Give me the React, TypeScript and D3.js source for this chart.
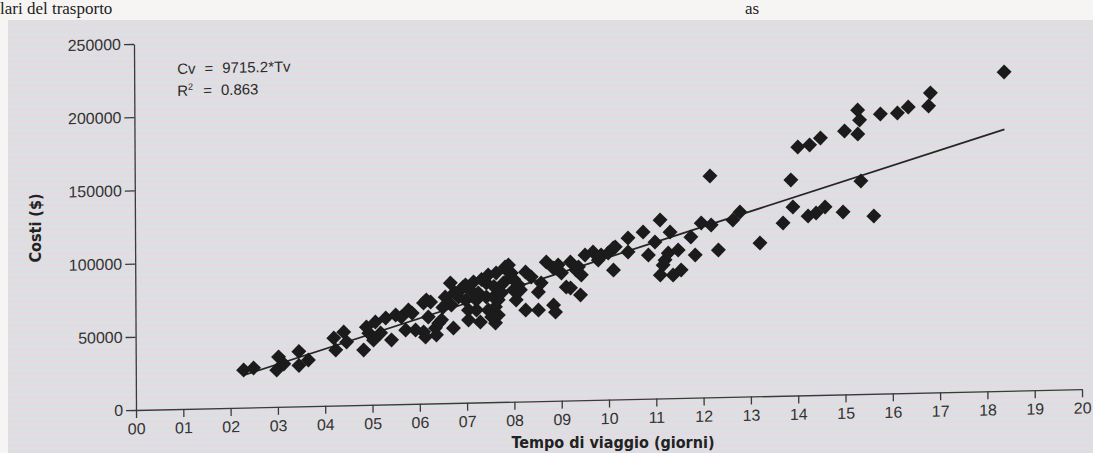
import React, { useEffect, useRef } from 'react';
import * as d3 from 'd3';

// Tempo di viaggio (giorni) per ogni spedizione
const tempoViaggio = [
  2.28, 2.49, 2.98, 3.02, 3.13, 3.45, 3.45, 3.65, 4.19, 4.23, 4.40, 4.46, 4.82, 4.88, 4.93,
  5.03, 5.07, 5.18, 5.29, 5.41, 5.50, 5.62, 5.71, 5.77, 5.92, 6.09, 6.09, 6.13, 6.15, 6.19,
  6.24, 6.34, 6.36, 6.41, 6.47, 6.55, 6.66, 6.68, 6.72, 6.83, 6.87, 6.93, 6.98, 6.98, 7.04,
  7.04, 7.15, 7.21, 7.21, 7.25, 7.29, 7.42, 7.42, 7.46, 7.46, 7.53, 7.57, 7.61, 7.61, 7.63,
  7.67, 7.67, 7.74, 7.78, 7.82, 7.89, 7.93, 7.95, 7.99, 8.05, 8.10, 8.14, 8.25, 8.25, 8.37,
  8.52, 8.52, 8.58, 8.69, 8.84, 8.84, 8.88, 8.94, 9.01, 9.11, 9.20, 9.20, 9.32, 9.37, 9.41,
  9.43, 9.51, 9.68, 9.79, 9.85, 10.00, 10.11, 10.11, 10.15, 10.42, 10.42, 10.74, 10.85, 10.99, 11.10,
  11.10, 11.16, 11.20, 11.27, 11.31, 11.37, 11.48, 11.54, 11.75, 11.84, 11.97, 12.16, 12.18, 12.33, 12.64,
  12.79, 13.21, 13.70, 13.87, 13.91, 14.02, 14.23, 14.27, 14.40, 14.50, 14.59, 14.97, 15.01, 15.29, 15.29,
  15.33, 15.35, 15.62, 15.77, 16.13, 16.36, 16.79, 16.83, 18.39,
  6.75, 7.10, 7.32, 7.58, 7.85, 6.50, 8.00, 5.85,
];

// Costi ($), stesso ordine di tempoViaggio
const costi = [
  25700, 26900, 25200, 34100, 29200, 37500, 28000, 31500, 46200, 38000, 50100, 43300, 37600, 53200, 49100,
  44200, 56500, 48900, 59100, 44000, 61000, 59500, 50600, 64200, 50400, 68800, 49000, 45500, 70800, 59100,
  69300, 51500, 46700, 54800, 56900, 72500, 82000, 66900, 51200, 72300, 77100, 79100, 70100, 80400, 56500,
  63300, 82400, 63200, 70000, 74800, 54900, 81500, 71900, 86900, 63000, 58200, 71800, 54000, 65000, 88200,
  69700, 59400, 74400, 81200, 92100, 93400, 85200, 87900, 76300, 69400, 79600, 76200, 88400, 62400, 84900,
  74500, 62200, 80700, 94900, 90700, 65400, 60600, 92700, 87200, 77500, 94500, 76800, 89000, 91000, 71900,
  85500, 99100, 101000, 95500, 98900, 100100, 103500, 88400, 104100, 110100, 100500, 113900, 98100, 106900, 121900,
  84300, 91100, 94500, 99200, 113500, 84100, 101100, 87400, 109800, 97500, 119200, 151200, 117700, 100500, 120800,
  126100, 104700, 118000, 147300, 128800, 169700, 122400, 170900, 124300, 175500, 128300, 124600, 179900, 194000, 177600,
  187200, 145500, 121400, 191000, 191400, 195300, 195700, 204600, 217800,
  75500, 76000, 84000, 79000, 90000, 65500, 83500, 62000,
];

const xTickValues = d3.range(0, 21);
const yTickValues = [0, 50000, 100000, 150000, 200000, 250000];

// retta di regressione per l'origine
const coefficiente = 9715.2;
const r2 = 0.863;

const W = 1093;
const H = 453;

const App = () => {
  const svgRef = useRef<SVGSVGElement>(null);

  useEffect(() => {
    const svg = d3.select(svgRef.current);
    svg.selectAll('*').remove();

    const x0 = 136;
    const y0 = 410;

    const xScale = d3.scaleLinear().domain([0, 20]).range([x0, 1082]);
    const yScale = d3.scaleLinear().domain([0, 250000]).range([y0, 44]);

    // paper + striped scan background
    svg.append('rect').attr('width', W).attr('height', H).attr('fill', '#f6f5f3');

    const defs = svg.append('defs');
    const pat = defs.append('pattern')
      .attr('id', 'scan-stripes')
      .attr('patternUnits', 'userSpaceOnUse')
      .attr('width', 12)
      .attr('height', 6);
    pat.append('rect').attr('width', 12).attr('height', 3).attr('fill', '#e4dae5');
    pat.append('rect').attr('y', 3).attr('width', 12).attr('height', 3).attr('fill', '#dbe1df');

    svg.append('rect')
      .attr('x', 8).attr('y', 20)
      .attr('width', W - 8).attr('height', H - 20)
      .attr('fill', 'url(#scan-stripes)');

    // line of book text above the figure
    const bookFont = "'Liberation Serif', 'DejaVu Serif', serif";
    svg.append('text')
      .attr('x', 0).attr('y', 14)
      .attr('font-family', bookFont)
      .attr('font-size', 17)
      .attr('fill', '#222')
      .text('lari del trasporto');
    svg.append('text')
      .attr('x', 745).attr('y', 14)
      .attr('font-family', bookFont)
      .attr('font-size', 17)
      .attr('fill', '#222')
      .text('as');

    // the scan is slightly tilted
    const plot = svg.append('g')
      .attr('transform', `translate(${x0},${y0}) matrix(1,-0.022,0.0055,1,0,0) translate(${-x0},${-y0})`);

    const xAxis = d3.axisBottom(xScale)
      .tickValues(xTickValues)
      .tickSize(8)
      .tickSizeOuter(0)
      .tickPadding(5)
      .tickFormat(d => String(d).padStart(2, '0'));

    const yAxis = d3.axisLeft(yScale)
      .tickValues(yTickValues)
      .tickSize(10)
      .tickSizeOuter(0)
      .tickPadding(3)
      .tickFormat(d => String(d));

    const gx = plot.append('g')
      .attr('transform', `translate(0,${y0})`)
      .call(xAxis);
    const gy = plot.append('g')
      .attr('transform', `translate(${x0},0)`)
      .call(yAxis);

    [gx, gy].forEach(g => {
      g.selectAll('path, line').attr('stroke', '#3a3a3a').attr('stroke-width', 1.3);
      g.selectAll('text')
        .attr('fill', '#333')
        .attr('font-family', "'Liberation Sans', Arial, sans-serif")
        .attr('font-size', 16);
    });

    // trend line
    const xMin = d3.min(tempoViaggio) as number;
    const xMax = d3.max(tempoViaggio) as number;
    plot.append('line')
      .attr('x1', xScale(xMin)).attr('y1', yScale(coefficiente * xMin))
      .attr('x2', xScale(xMax)).attr('y2', yScale(coefficiente * xMax))
      .attr('stroke', '#262626')
      .attr('stroke-width', 1.8);

    // diamonds
    const diamond = d3.symbol().type(d3.symbolSquare).size(112);
    plot.append('g')
      .selectAll('path')
      .data(tempoViaggio.map((t, i) => [t, costi[i]]))
      .join('path')
      .attr('d', diamond)
      .attr('transform', d => `translate(${xScale(d[0])},${yScale(d[1])}) rotate(45)`)
      .attr('fill', '#1b1b1b');

    // equation
    const eq = plot.append('g')
      .attr('font-family', "'Liberation Sans', Arial, sans-serif")
      .attr('font-size', 15)
      .attr('fill', '#2a2a2a');
    const t1 = eq.append('text').attr('x', 179).attr('y', 75);
    t1.append('tspan').text('Cv');
    t1.append('tspan').attr('dx', 9).text('=');
    t1.append('tspan').attr('dx', 9).text(`${coefficiente}*Tv`);
    const t2 = eq.append('text').attr('x', 179).attr('y', 97);
    t2.append('tspan').text('R');
    t2.append('tspan').attr('font-size', 9).attr('dy', -6).text('2');
    t2.append('tspan').attr('dx', 10).attr('dy', 6).text('=');
    t2.append('tspan').attr('dx', 9).text(String(r2));

    // axis titles
    const titleFont = "'Liberation Sans Narrow', 'Arial Narrow', 'DejaVu Sans Condensed', sans-serif";
    svg.append('text')
      .attr('x', 613).attr('y', 448)
      .attr('text-anchor', 'middle')
      .attr('font-family', titleFont)
      .attr('font-weight', 'bold')
      .attr('font-size', 16)
      .attr('fill', '#222')
      .text('Tempo di viaggio (giorni)');

    svg.append('text')
      .attr('transform', 'translate(41,228) rotate(-90)')
      .attr('text-anchor', 'middle')
      .attr('font-family', titleFont)
      .attr('font-weight', 'bold')
      .attr('font-size', 16)
      .attr('fill', '#222')
      .text('Costi ($)');
  }, []);

  return (
    <svg
      ref={svgRef}
      width={W}
      height={H}
      style={{ position: 'absolute', left: 0, top: 0, display: 'block' }}
    />
  );
};

export default App;
